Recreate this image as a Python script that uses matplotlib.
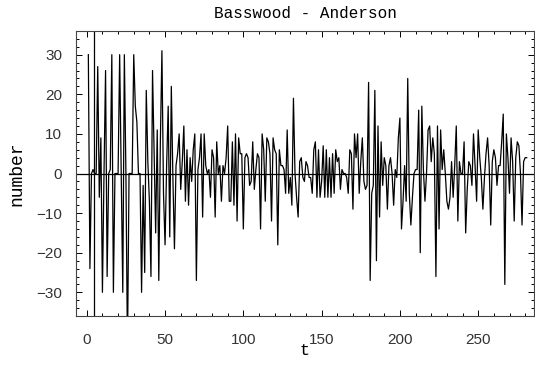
import matplotlib
matplotlib.use("Agg")
import matplotlib.pyplot as plt
from matplotlib.ticker import MultipleLocator
import numpy as np

# Serie (t = 1 ... 281)
values = [
    30, -24, 0, 1, 0, 0, 27, -6, 9, -30,
    0, 26, -26, 0, 1, 30, -30, 0, 0, 0,
    30, 1, -30, 30, 0, -45, 0, 0, 0, 30,
    17, 13, 0, 0, -30, -3, -25, 21, 3, -7,
    -26, 26, 5, -15, 11, -27, 8, 31, -5, -18,
    2, 17, -16, 22, -1, -19, 2, 5, 10, -4,
    3, 12, -7, 6, -8, 4, -2, 6, 10, -27,
    1, 4, 10, -11, 10, 2, 0, 1, -6, 6,
    4, -11, 8, 0, 2, -7, 2, 0, 4, 12,
    -7, -7, 8, -8, 10, -12, 9, 5, 5, -14,
    4, 5, 4, -3, -2, 8, -4, 1, 5, 4,
    -14, 10, 6, -7, 9, 8, 5, -12, 9, 6,
    5, -18, 6, 2, 2, 1, -5, 11, -5, -1,
    -8, 19, 0, -6, -11, 3, 4, -1, -2, 3,
    2, -1, -1, -5, 6, 8, -6, 6, -6, -2,
    7, -6, 6, -6, 4, -6, 5, -5, 6, 3,
    4, -4, 1, 0, 0, -1, -5, 6, 5, -9,
    10, 4, 10, -5, 3, 9, -2, -4, -3, 23,
    -27, -5, -3, 21, -22, 12, -11, 8, -3, 4,
    2, -9, 2, 4, 0, -8, 1, -1, 9, 14,
    -14, -7, 2, -7, 24, -5, -13, -6, 0, 1,
    1, 16, -20, 17, 1, -7, 0, 11, 12, 3,
    9, 5, -26, 12, -14, 11, 1, 6, 0, -7,
    -9, -6, 3, -6, 2, 12, -12, 3, 0, 0,
    8, -15, -4, 3, 2, -3, 10, 2, -7, 11,
    4, -1, -9, -1, 5, 9, 2, -13, 3, 6,
    4, -3, 2, 2, 8, 15, -28, 10, 4, -5,
    9, 3, -12, 4, 8, 7, 0, -13, 3, 4, 4,
]
t = np.arange(1, len(values) + 1)

title = "Basswood - Anderson"
xlabel = "t"
ylabel = "number"

mono = "Liberation Mono"
sans = "Liberation Sans"

fig = plt.figure(figsize=(5.35, 3.68), dpi=100)
ax = fig.add_axes([0.142, 0.141, 0.856, 0.775])

ax.plot(t, values, color="black", linewidth=0.9)

# eixos no estilo do Mathematica
ax.axhline(0, color="black", linewidth=0.9)
ax.axvline(4.3, color="black", linewidth=0.9)

ax.set_xlim(-6.9, 285.6)
ax.set_ylim(-36, 36)

ax.xaxis.set_major_locator(MultipleLocator(50))
ax.xaxis.set_minor_locator(MultipleLocator(10))
ax.yaxis.set_major_locator(MultipleLocator(10))
ax.yaxis.set_minor_locator(MultipleLocator(2))
ax.tick_params(which="both", direction="in", top=True, right=True,
               labelsize=11, labelcolor="#333333", width=0.7)
ax.tick_params(axis="x", which="major", pad=12)
ax.tick_params(axis="y", which="major", pad=10)
ax.tick_params(which="major", length=4)
ax.tick_params(which="minor", length=2)
for lab in ax.get_xticklabels() + ax.get_yticklabels():
    lab.set_family(sans)
for s in ax.spines.values():
    s.set_linewidth(0.8)
    s.set_color("#444444")

ax.set_title(title, family=mono, fontsize=11.5, pad=9)
ax.set_xlabel(xlabel, family=mono, fontsize=12, labelpad=-3)
ax.set_ylabel(ylabel, family=mono, fontsize=13, labelpad=8)

fig.savefig("out.png", dpi=100)
